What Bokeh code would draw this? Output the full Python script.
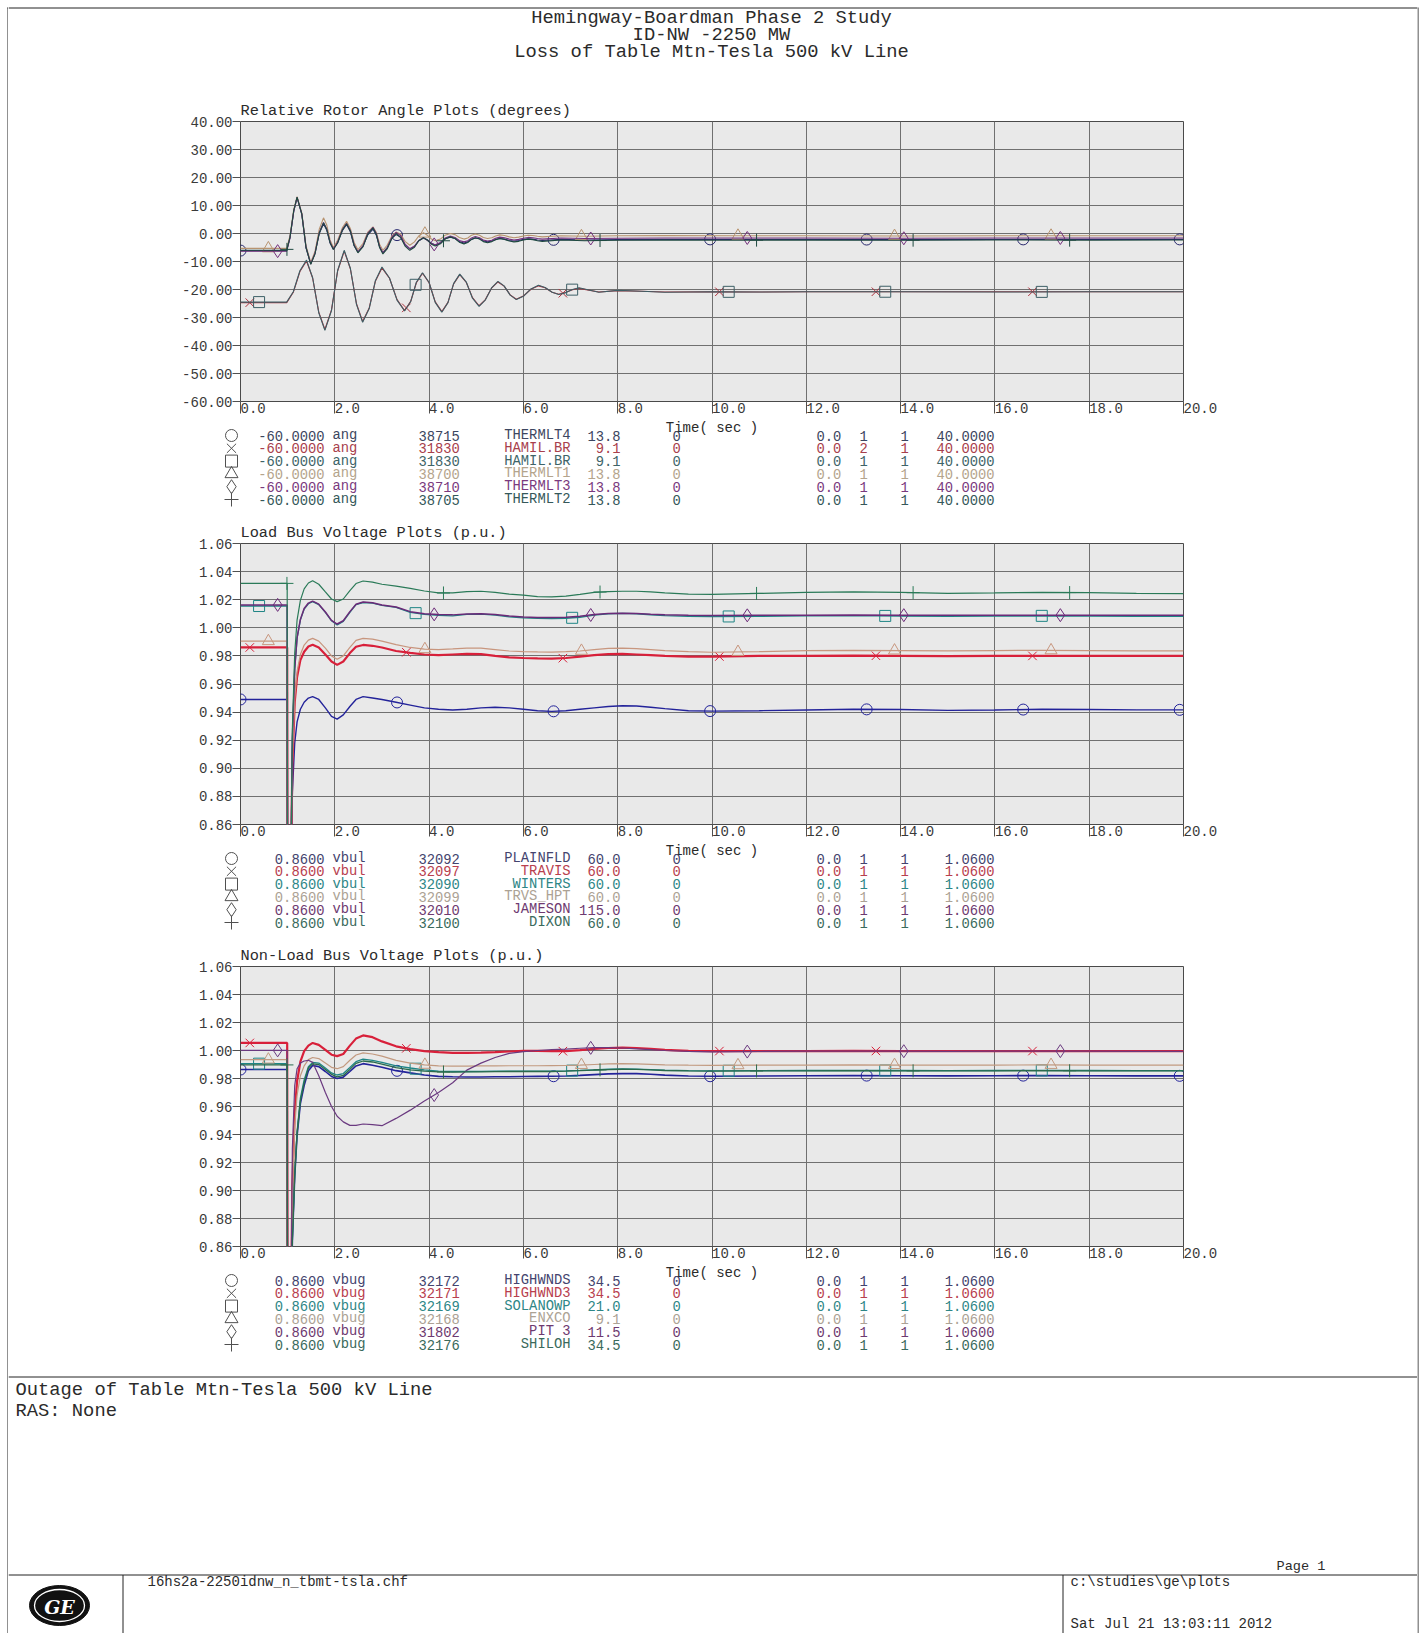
import numpy as np
from bokeh.plotting import figure
from bokeh.layouts import column, row
from bokeh.models import (Range1d, FixedTicker, PrintfTickFormatter, CustomJSTickFormatter,
                          Title, ColumnDataSource)
from bokeh.core.properties import value
from bokeh.embed import file_html
from bokeh.resources import INLINE

# ---------------------------------------------------------------- report text
REPORT_TITLE = ["Hemingway-Boardman Phase 2 Study",
                "ID-NW -2250 MW",
                "Loss of Table Mtn-Tesla 500 kV Line"]
NOTES = ["Outage of Table Mtn-Tesla 500 kV Line", "RAS: None"]
PAGE_LABEL = "Page 1"
CASE_FILE = "16hs2a-2250idnw_n_tbmt-tsla.chf"
PLOT_DIR = "c:\\studies\\ge\\plots"
RUN_DATE = "Sat Jul 21 13:03:11 2012"

X_TICKS = [0, 2, 4, 6, 8, 10, 12, 14, 16, 18, 20]

# ---------------------------------------------------------------- rotor angles (degrees)
ROTOR_BUS = [38715, 31830, 31830, 38700, 38710, 38705]
ROTOR_NAME = ["THERMLT4", "HAMIL.BR", "HAMIL.BR", "THERMLT1", "THERMLT3", "THERMLT2"]
ROTOR_KV = ["13.8", "9.1", "9.1", "13.8", "13.8", "13.8"]
ROTOR_ID = ["1", "2", "1", "1", "1", "1"]

T_ROTOR_FAST = [0.0, 0.98, 1.05, 1.13, 1.20, 1.30, 1.39, 1.49, 1.58, 1.67, 1.76, 1.83, 1.90, 1.97,
                2.06, 2.16, 2.25, 2.33, 2.41, 2.49, 2.60, 2.70, 2.81, 2.88, 2.95, 3.02, 3.11, 3.21,
                3.30, 3.40, 3.49, 3.59, 3.69, 3.78, 3.88, 3.96, 4.05, 4.13, 4.24, 4.34, 4.45, 4.55,
                4.64, 4.74, 4.82, 4.90, 4.98, 5.07, 5.15, 5.24, 5.33, 5.41, 5.50, 5.60, 5.70, 5.80,
                5.90, 6.00, 6.10, 6.20, 6.30, 6.40, 6.80, 7.30, 8.00, 9.00, 10.50, 12.00, 14.00,
                16.00, 18.00, 20.00]
THERMLT4_ANG = [-6.1, -6.1, -1.5, 8.0, 12.8, 6.8, -5.2, -10.8, -7.0, 0.0,
                3.5, 1.2, -3.4, -5.6, -3.2, 1.0, 3.2, 0.6, -4.4, -6.6,
                -4.4, -0.5, 1.6, -0.6, -4.8, -6.9, -5.0, -1.6, -0.4, -1.3,
                -4.0, -5.5, -4.6, -2.6, -1.6, -2.2, -3.5, -4.1, -3.4, -1.9,
                -1.3, -1.8, -2.9, -3.4, -3.0, -2.1, -1.6, -1.9, -2.6, -3.0,
                -2.7, -2.1, -1.8, -2.0, -2.5, -2.7, -2.5, -2.1, -1.9, -2.0,
                -2.3, -2.5, -2.1, -2.3, -2.2, -2.1, -2.1, -2.1, -2.2, -2.1,
                -2.1, -2.1]
THERMLT1_ANG = [-5.3, -5.3, -0.8, 8.6, 13.2, 7.4, -4.4, -10.3, -6.4, 1.5,
                5.6, 3.0, -2.3, -5.0, -2.4, 2.0, 4.4, 1.8, -3.2, -5.8,
                -3.5, 0.5, 2.4, 0.4, -3.8, -6.0, -4.2, -0.9, 0.5, -0.3,
                -2.8, -4.2, -3.0, -0.9, 0.3, -0.6, -2.0, -2.6, -2.0, -0.6,
                0.0, -0.4, -1.4, -2.0, -1.6, -0.6, -0.2, -0.6, -1.4, -1.8,
                -1.5, -0.9, -0.5, -0.7, -1.2, -1.5, -1.3, -0.9, -0.6, -0.7,
                -1.0, -1.2, -0.8, -1.0, -0.8, -0.7, -0.8, -0.8, -0.9, -0.8,
                -0.8, -0.8]
THERMLT3_ANG = [-6.3, -6.3, -1.6, 8.0, 12.9, 7.1, -4.9, -10.9, -7.1, 0.3,
                3.9, 1.6, -3.1, -5.5, -3.1, 1.4, 3.6, 1.1, -4.0, -6.6,
                -4.3, 0.1, 2.2, 0.0, -4.6, -6.9, -5.2, -1.3, 0.4, -0.8,
                -3.8, -5.4, -4.5, -2.5, -1.5, -2.4, -3.6, -4.0, -3.2, -1.6,
                -0.9, -1.4, -2.5, -3.0, -2.6, -1.6, -1.1, -1.5, -2.3, -2.7,
                -2.4, -1.7, -1.3, -1.5, -2.0, -2.3, -2.1, -1.7, -1.4, -1.5,
                -1.8, -2.0, -1.6, -1.8, -1.7, -1.6, -1.6, -1.6, -1.7, -1.6,
                -1.6, -1.6]
THERMLT2_ANG = [-6.0, -6.0, -1.3, 8.3, 13.0, 7.0, -5.0, -11.0, -7.3, 0.1,
                3.8, 1.4, -3.3, -5.7, -3.4, 1.2, 3.5, 0.9, -4.3, -6.9,
                -4.7, -0.2, 2.0, -0.3, -5.0, -7.3, -5.5, -1.8, 0.0, -1.5,
                -4.5, -6.0, -4.9, -2.6, -1.5, -2.3, -3.8, -4.5, -3.7, -2.0,
                -1.2, -1.8, -3.1, -3.7, -3.2, -2.1, -1.5, -2.0, -2.9, -3.3,
                -2.9, -2.2, -1.8, -2.1, -2.7, -3.0, -2.8, -2.3, -2.0, -2.2,
                -2.6, -2.8, -2.3, -2.6, -2.4, -2.3, -2.4, -2.3, -2.4, -2.3,
                -2.4, -2.3]

T_ROTOR_SLOW = [0.0, 0.98, 1.12, 1.26, 1.40, 1.53, 1.66, 1.79, 1.93, 2.06,
                2.20, 2.33, 2.46, 2.59, 2.73, 2.86, 3.00, 3.16, 3.32, 3.48,
                3.61, 3.73, 3.86, 4.00, 4.13, 4.27, 4.40, 4.52, 4.65, 4.79,
                4.92, 5.06, 5.19, 5.33, 5.46, 5.59, 5.72, 5.85, 6.01, 6.16,
                6.32, 6.46, 6.61, 6.75, 6.89, 7.04, 7.18, 7.60, 8.00, 8.50,
                9.00, 10.00, 11.00, 12.00, 14.00, 16.00, 18.00, 20.00]
HAMIL2_ANG = [-24.7, -24.7, -21.0, -13.6, -9.8, -15.9, -28.1, -34.3, -27.3, -13.4,
              -6.3, -12.6, -25.1, -31.4, -26.6, -17.1, -12.3, -16.0, -23.6, -27.5,
              -24.2, -17.6, -14.2, -17.6, -24.4, -27.9, -24.6, -18.0, -14.7, -17.5,
              -22.9, -25.8, -23.7, -19.4, -17.3, -18.8, -21.9, -23.5, -22.2, -19.9,
              -18.7, -19.4, -21.0, -21.7, -21.1, -20.1, -19.6, -20.9, -20.4, -20.6,
              -20.9, -20.8, -20.9, -20.8, -20.8, -20.8, -20.8, -20.8]
HAMIL1_ANG = [-24.5, -24.5, -20.8, -13.3, -9.5, -15.8, -28.3, -34.6, -27.5, -13.2,
              -6.0, -12.4, -25.3, -31.7, -26.8, -16.9, -12.0, -15.9, -23.8, -27.7,
              -24.3, -17.4, -14.0, -17.5, -24.6, -28.1, -24.7, -17.9, -14.5, -17.4,
              -23.1, -26.0, -23.8, -19.3, -17.1, -18.7, -22.0, -23.6, -22.3, -19.8,
              -18.5, -19.3, -21.0, -21.8, -21.2, -20.0, -19.4, -21.0, -20.3, -20.6,
              -21.0, -20.8, -20.9, -20.8, -20.8, -20.9, -20.8, -20.8]

# ---------------------------------------------------------------- bus voltages (p.u.)
T_VOLT = [0.0, 0.99, 1.00, 1.06, 1.10, 1.15, 1.20, 1.27, 1.35, 1.44,
          1.53, 1.66, 1.80, 1.93, 2.05, 2.18, 2.32, 2.45, 2.60, 2.80,
          3.00, 3.30, 3.60, 3.90, 4.20, 4.50, 4.80, 5.10, 5.40, 5.70,
          6.00, 6.30, 6.60, 6.90, 7.20, 7.50, 7.80, 8.10, 8.40, 8.70,
          9.00, 9.50, 10.0, 11.0, 12.0, 13.0, 14.0, 15.0, 16.0, 17.0,
          18.0, 19.0, 20.0]

LOAD_BUS = [32092, 32097, 32090, 32099, 32010, 32100]
LOAD_NAME = ["PLAINFLD", "TRAVIS", "WINTERS", "TRVS_HPT", "JAMESON", "DIXON"]
LOAD_KV = ["60.0", "60.0", "60.0", "60.0", "115.0", "60.0"]
LOAD_ID = ["1", "1", "1", "1", "1", "1"]

PLAINFLD_V = [0.949, 0.949, 0.75, 0.80, 0.883, 0.918, 0.933, 0.942, 0.947, 0.950,
              0.951, 0.949, 0.943, 0.937, 0.935, 0.938, 0.944, 0.949, 0.951, 0.950,
              0.949, 0.947, 0.945, 0.943, 0.942, 0.9415, 0.942, 0.943, 0.9435, 0.943,
              0.942, 0.941, 0.9405, 0.941, 0.942, 0.943, 0.944, 0.9445, 0.9443, 0.9435,
              0.9425, 0.941, 0.9407, 0.941, 0.9415, 0.942, 0.9418, 0.9412, 0.9415, 0.942,
              0.9418, 0.9416, 0.9416]
TRAVIS_V = [0.986, 0.986, 0.75, 0.80, 0.903, 0.947, 0.965, 0.977, 0.983, 0.9867,
            0.988, 0.986, 0.981, 0.976, 0.9736, 0.976, 0.982, 0.9865, 0.9878, 0.9872,
            0.986, 0.9835, 0.9822, 0.981, 0.9805, 0.981, 0.9815, 0.9813, 0.980, 0.979,
            0.9785, 0.9782, 0.978, 0.9785, 0.9795, 0.9805, 0.9812, 0.9814, 0.981, 0.9805,
            0.980, 0.9795, 0.9795, 0.980, 0.980, 0.9802, 0.980, 0.9798, 0.980, 0.980,
            0.980, 0.980, 0.980]
WINTERS_V = [1.0155, 1.0155, 0.75, 0.80, 0.920, 0.9705, 0.9924, 1.0055, 1.0133, 1.0171,
             1.0186, 1.0165, 1.011, 1.005, 1.002, 1.0045, 1.011, 1.0165, 1.018, 1.0175,
             1.016, 1.0145, 1.011, 1.0095, 1.0088, 1.0085, 1.0095, 1.0098, 1.009, 1.0078,
             1.007, 1.0067, 1.0066, 1.0068, 1.0075, 1.009, 1.010, 1.0103, 1.010, 1.0093,
             1.0087, 1.0082, 1.008, 1.0082, 1.0085, 1.0086, 1.0084, 1.0082, 1.0083, 1.0085,
             1.0084, 1.0082, 1.0082]
TRVS_HPT_V = [0.9905, 0.9905, 0.75, 0.80, 0.906, 0.950, 0.969, 0.981, 0.9877, 0.9912,
              0.9925, 0.9905, 0.9855, 0.980, 0.9776, 0.980, 0.986, 0.991, 0.9925, 0.992,
              0.9905, 0.988, 0.986, 0.9848, 0.9845, 0.985, 0.9856, 0.9855, 0.9845, 0.9835,
              0.983, 0.9828, 0.9827, 0.983, 0.9835, 0.9845, 0.9853, 0.9856, 0.9852, 0.9845,
              0.9838, 0.983, 0.9826, 0.983, 0.9838, 0.984, 0.9838, 0.9836, 0.9838, 0.984,
              0.9838, 0.9836, 0.9836]
JAMESON_V = [1.0163, 1.0163, 0.75, 0.80, 0.921, 0.971, 0.993, 1.006, 1.0138, 1.0176,
             1.019, 1.0168, 1.0112, 1.0053, 1.0027, 1.005, 1.0115, 1.0168, 1.0184, 1.0178,
             1.0163, 1.0148, 1.0115, 1.0100, 1.0094, 1.0092, 1.0099, 1.0100, 1.0094, 1.0084,
             1.0077, 1.0074, 1.0073, 1.0075, 1.0082, 1.0094, 1.0101, 1.0104, 1.0102, 1.0096,
             1.0092, 1.0089, 1.0088, 1.0089, 1.0090, 1.0091, 1.0090, 1.0089, 1.0089, 1.0090,
             1.0090, 1.0089, 1.0089]
DIXON_V = [1.0316, 1.0316, 0.75, 0.80, 0.928, 0.982, 1.0055, 1.0195, 1.0277, 1.0319,
           1.0335, 1.031, 1.0255, 1.0205, 1.0186, 1.0205, 1.0265, 1.0315, 1.0333, 1.0325,
           1.031, 1.0297, 1.028, 1.0262, 1.0248, 1.0248, 1.0258, 1.026, 1.0252, 1.024,
           1.0233, 1.0222, 1.022, 1.0225, 1.0238, 1.0252, 1.0258, 1.026, 1.026, 1.0255,
           1.0248, 1.024, 1.0238, 1.0245, 1.0252, 1.0255, 1.0252, 1.0245, 1.0248, 1.0252,
           1.025, 1.0245, 1.0243]

GEN_BUS = [32172, 32171, 32169, 32168, 31802, 32176]
GEN_NAME = ["HIGHWNDS", "HIGHWND3", "SOLANOWP", "ENXCO", "PIT 3", "SHILOH"]
GEN_KV = ["34.5", "34.5", "21.0", "9.1", "11.5", "34.5"]
GEN_ID = ["1", "1", "1", "1", "1", "1"]

HIGHWNDS_V = [0.9864, 0.9864, 0.75, 0.78, 0.864, 0.910, 0.939, 0.962, 0.975, 0.9855,
              0.9893, 0.9885, 0.985, 0.9815, 0.980, 0.981, 0.985, 0.989, 0.9906, 0.9895,
              0.988, 0.9856, 0.984, 0.9825, 0.9815, 0.9812, 0.9811, 0.9811, 0.9812, 0.9813,
              0.9814, 0.9815, 0.9816, 0.9818, 0.9822, 0.9828, 0.9833, 0.9835, 0.9835, 0.983,
              0.9824, 0.9818, 0.9816, 0.9818, 0.982, 0.9821, 0.982, 0.9819, 0.982, 0.9821,
              0.982, 0.9819, 0.9819]
HIGHWND3_V = [1.0054, 1.0054, 0.75, 0.78, 0.904, 0.956, 0.978, 0.992, 0.9995, 1.0035,
              1.0054, 1.004, 1.0005, 0.997, 0.996, 0.9975, 1.0035, 1.0085, 1.0108, 1.0095,
              1.0065, 1.003, 1.001, 0.9995, 0.9988, 0.9983, 0.9983, 0.9985, 0.9988, 0.9993,
              0.9998, 0.9998, 0.9996, 0.9995, 1.0003, 1.0012, 1.0018, 1.002, 1.0018, 1.0012,
              1.0005, 0.9998, 0.9996, 0.9995, 0.9996, 0.9997, 0.9996, 0.9995, 0.9996, 0.9996,
              0.9995, 0.9995, 0.9995]
SOLANOWP_V = [0.9906, 0.9906, 0.75, 0.78, 0.866, 0.912, 0.942, 0.966, 0.979, 0.9885,
              0.9915, 0.991, 0.9875, 0.984, 0.9825, 0.9835, 0.9878, 0.992, 0.9938, 0.993,
              0.9915, 0.989, 0.9875, 0.9862, 0.9852, 0.985, 0.985, 0.9851, 0.9852, 0.9853,
              0.9853, 0.9853, 0.9853, 0.9855, 0.9858, 0.9862, 0.9866, 0.9868, 0.9867, 0.9863,
              0.9859, 0.9856, 0.9855, 0.9856, 0.9857, 0.9858, 0.9857, 0.9856, 0.9857, 0.9858,
              0.9857, 0.9856, 0.9856]
ENXCO_V = [0.9935, 0.9935, 0.75, 0.78, 0.896, 0.946, 0.968, 0.982, 0.989, 0.9935,
           0.995, 0.9942, 0.991, 0.988, 0.987, 0.9885, 0.993, 0.9968, 0.9983, 0.9975,
           0.996, 0.993, 0.991, 0.9898, 0.989, 0.9888, 0.9888, 0.989, 0.989, 0.9891,
           0.9891, 0.9891, 0.9892, 0.9893, 0.9896, 0.990, 0.9904, 0.9906, 0.9905, 0.9901,
           0.9897, 0.9895, 0.9894, 0.9895, 0.9896, 0.9897, 0.9896, 0.9895, 0.9896, 0.9897,
           0.9896, 0.9895, 0.9895]
PIT3_V = [1.0001, 1.0001, 0.75, 0.78, 0.930, 0.975, 0.987, 0.991, 0.9925, 0.993,
          0.9915, 0.982, 0.970, 0.960, 0.953, 0.949, 0.9465, 0.9465, 0.9475, 0.947,
          0.9463, 0.9515, 0.9574, 0.964, 0.970, 0.977, 0.986, 0.991, 0.995, 0.998,
          0.9992, 1.0, 1.0006, 1.001, 1.0016, 1.002, 1.002, 1.0018, 1.0012, 1.0006,
          1.0, 0.9994, 0.999, 0.9993, 0.9995, 0.9996, 0.9995, 0.9994, 0.9995, 0.9996,
          0.9995, 0.9994, 0.9994]
SHILOH_V = [0.9897, 0.9897, 0.75, 0.78, 0.864, 0.911, 0.941, 0.964, 0.977, 0.9875,
            0.9905, 0.990, 0.9865, 0.983, 0.9812, 0.9822, 0.9865, 0.9908, 0.9925, 0.9918,
            0.9902, 0.9878, 0.9862, 0.9852, 0.9847, 0.9846, 0.9847, 0.9848, 0.9849, 0.985,
            0.985, 0.985, 0.985, 0.9852, 0.9856, 0.986, 0.9864, 0.9866, 0.9865, 0.9861,
            0.9857, 0.9854, 0.9853, 0.9854, 0.9855, 0.9856, 0.9855, 0.9854, 0.9855, 0.9856,
            0.9855, 0.9854, 0.9854]

# ---------------------------------------------------------------- styling
FONT = "Liberation Mono"
INK = "#2b2b2b"
GRID = "#707070"
FRAME_BG = "#e9e9e9"
MARKERS = ["circle", "x", "square", "triangle", "diamond", "cross"]
MARKER_SIZES = [11, 12, 11, 12, 13, 13]
KEY_SIZES = [12, 13, 12, 13, 14, 14]
MARK_PERIOD = 3.32     # seconds between symbols on a trace
MARK_STAGGER = 0.197   # offset between traces

ROTOR_COLORS = ["#28286e", "#b0303c", "#3d5f66", "#b89470", "#74307c", "#1f4a40"]
LOAD_COLORS = ["#23239a", "#d8203a", "#1f8585", "#c8967e", "#6b2a78", "#2a7a58"]
GEN_COLORS = ["#23239a", "#d8203a", "#1f8585", "#c29a80", "#6b3a80", "#2a6a4c"]
# softer tones for the printed channel tables
ROTOR_TABLE = ["#3c4660", "#a8404c", "#3e6468", "#b4a48c", "#7a3a7e", "#35585a"]
VOLT_TABLE = ["#44446e", "#b8404e", "#2e8686", "#aca294", "#6e3a70", "#3a6a5c"]

PAGE_W, PAGE_H = 1422, 1633
LEFT_W, RIGHT_W = 8, 5
MID_W = PAGE_W - LEFT_W - RIGHT_W
FRAME_LEFT = 232          # inside the middle column
FRAME_W = 943
HEADER_H = 92
FOOT_H = 273
AXIS_PAD = 17             # room under each plot for its tick labels

# channel table: first row and row pitch (px, from the top of the table strip)
LEG_ROW0, LEG_PITCH = 16, 12.8
TIME_LABEL_Y = 8


def sheet(width, height):
    f = figure(width=width, height=height, title=None,
               x_range=Range1d(0, width), y_range=Range1d(height, 0),
               output_backend="svg", toolbar_location=None, min_border=0,
               x_axis_type=None, y_axis_type=None, frame_align=False)
    f.outline_line_color = None
    f.background_fill_color = "white"
    f.border_fill_color = "white"
    return f


def txt(f, x, y, s, size, align="left", color=INK, font=FONT, style="normal"):
    f.text(x=[x], y=[y], text=[s], text_font=value(font), text_font_size=value(size),
           text_align=align, text_baseline="middle", text_color=color,
           text_font_style=style)


def make_panel(title, traces, colors, widths, y_lo, y_hi, y_step, top_pad, frame_h):
    height = top_pad + frame_h + AXIS_PAD
    p = figure(width=MID_W, height=height,
               x_range=Range1d(0, 20), y_range=Range1d(y_lo, y_hi),
               output_backend="svg", toolbar_location=None,
               min_border_left=FRAME_LEFT, min_border_right=MID_W - FRAME_LEFT - FRAME_W,
               min_border_top=top_pad, min_border_bottom=AXIS_PAD)
    p.title = Title(text=title, align="left", text_font=FONT, text_font_size="15.3px",
                    text_font_style="normal", text_color=INK, standoff=4)
    p.background_fill_color = FRAME_BG
    p.border_fill_color = "white"
    p.outline_line_color = "#4a4a4a"
    p.outline_line_width = 1

    y_ticks = [round(v, 4) for v in np.arange(y_lo, y_hi + y_step / 2, y_step)]
    p.xaxis.ticker = FixedTicker(ticks=X_TICKS)
    p.xgrid.ticker = FixedTicker(ticks=X_TICKS)
    p.yaxis.ticker = FixedTicker(ticks=y_ticks)
    p.ygrid.ticker = FixedTicker(ticks=y_ticks)
    # labels start at their tick, as on the printed sheet
    p.xaxis.formatter = CustomJSTickFormatter(
        code="const s = tick.toFixed(1); return '\\u00a0'.repeat(s.length) + s;")
    p.yaxis.formatter = PrintfTickFormatter(format="%.2f")
    for g in (p.xgrid, p.ygrid):
        g.grid_line_color = GRID
        g.grid_line_width = 1
    for ax in (p.xaxis, p.yaxis):
        ax.axis_line_color = None
        ax.major_tick_line_color = "#505050"
        ax.major_tick_in = 0
        ax.minor_tick_line_color = None
        ax.major_label_text_font = FONT
        ax.major_label_text_font_size = "14px"
        ax.major_label_text_color = "#3a3a3a"
    p.xaxis.major_tick_out = 12
    p.xaxis.major_label_standoff = -13
    p.yaxis.major_tick_out = 8
    p.yaxis.major_label_standoff = 0

    for i, (t, v) in enumerate(traces):
        p.line(t, v, line_color=colors[i], line_width=widths[i])
        tm = [MARK_STAGGER * i + MARK_PERIOD * k for k in range(7)]
        tm = [x for x in tm if x <= 20.0]
        p.scatter(tm, np.interp(tm, t, v), marker=MARKERS[i], size=MARKER_SIZES[i],
                  line_color=colors[i], fill_color=None, line_width=1)
    return p


def make_table(height, colors, y_lo, y_hi, quantity, buses, names, kvs, ids):
    f = sheet(MID_W, height)
    x0 = FRAME_LEFT                      # plot left edge inside the column
    txt(f, x0 + FRAME_W / 2, TIME_LABEL_Y, "Time( sec )", "14px", align="center")
    ys = [LEG_ROW0 + LEG_PITCH * i for i in range(6)]
    src = ColumnDataSource(dict(x=[x0 - 9] * 6, y=ys, m=MARKERS, s=KEY_SIZES))
    f.scatter(x="x", y="y", marker="m", size="s", source=src,
              line_color="#505050", fill_color=None, line_width=1)

    def col(dx, texts, align):
        f.text(x=[x0 + dx] * 6, y=ys, text=texts, text_color=colors,
               text_font=value(FONT), text_font_size=value("13.8px"),
               text_align=align, text_baseline="middle")

    col(84, [f"{y_lo:.4f}"] * 6, "right")
    col(92, [quantity] * 6, "left")
    col(178, [str(b) for b in buses], "left")
    col(330, names, "right")
    col(380, kvs, "right")
    col(432, ["0"] * 6, "left")
    col(576, ["0.0"] * 6, "left")
    col(619, ids, "left")
    col(660, ["1"] * 6, "left")
    col(754, [f"{y_hi:.4f}"] * 6, "right")
    return f


p1 = make_panel("Relative Rotor Angle Plots (degrees)",
                [(T_ROTOR_FAST, THERMLT4_ANG), (T_ROTOR_SLOW, HAMIL2_ANG),
                 (T_ROTOR_SLOW, HAMIL1_ANG), (T_ROTOR_FAST, THERMLT1_ANG),
                 (T_ROTOR_FAST, THERMLT3_ANG), (T_ROTOR_FAST, THERMLT2_ANG)],
                ROTOR_COLORS, [1.1] * 6, -60, 40, 10, 29, 281)
t1 = make_table(96, ROTOR_TABLE, -60, 40, "ang", ROTOR_BUS, ROTOR_NAME, ROTOR_KV, ROTOR_ID)

p2 = make_panel("Load Bus Voltage Plots (p.u.)",
                [(T_VOLT, PLAINFLD_V), (T_VOLT, TRAVIS_V), (T_VOLT, WINTERS_V),
                 (T_VOLT, TRVS_HPT_V), (T_VOLT, JAMESON_V), (T_VOLT, DIXON_V)],
                LOAD_COLORS, [1.4, 2.2, 1.3, 1.2, 1.5, 1.2], 0.86, 1.06, 0.02, 28, 282)
t2 = make_table(95, VOLT_TABLE, 0.86, 1.06, "vbul", LOAD_BUS, LOAD_NAME, LOAD_KV, LOAD_ID)

p3 = make_panel("Non-Load Bus Voltage Plots (p.u.)",
                [(T_VOLT, HIGHWNDS_V), (T_VOLT, HIGHWND3_V), (T_VOLT, SOLANOWP_V),
                 (T_VOLT, ENXCO_V), (T_VOLT, PIT3_V), (T_VOLT, SHILOH_V)],
                GEN_COLORS, [1.6, 2.2, 1.3, 1.2, 1.2, 1.3], 0.86, 1.06, 0.02, 29, 281)
t3 = make_table(96, VOLT_TABLE, 0.86, 1.06, "vbug", GEN_BUS, GEN_NAME, GEN_KV, GEN_ID)

# page border strips
left = sheet(LEFT_W, PAGE_H)
left.segment(x0=[7.5], y0=[7], x1=[7.5], y1=[PAGE_H], line_color="#222222", line_width=1)
left.segment(x0=[7], y0=[7.5], x1=[LEFT_W], y1=[7.5], line_color="#222222", line_width=1)
right = sheet(RIGHT_W, PAGE_H)
right.segment(x0=[0.5], y0=[7], x1=[0.5], y1=[PAGE_H], line_color="#222222", line_width=1)
right.segment(x0=[0], y0=[7.5], x1=[0.5], y1=[7.5], line_color="#222222", line_width=1)

# header
head = sheet(MID_W, HEADER_H)
head.segment(x0=[0], y0=[7.5], x1=[MID_W], y1=[7.5], line_color="#222222", line_width=1)
for k, line in enumerate(REPORT_TITLE):
    txt(head, 703, 17.5 + 17 * k, line, "18.8px", align="center")

# footer
foot = sheet(MID_W, FOOT_H)
foot.segment(x0=[0], y0=[16.5], x1=[MID_W], y1=[16.5], line_color="#222222", line_width=1)
txt(foot, 7, 29, NOTES[0], "18.8px")
txt(foot, 7, 50.5, NOTES[1], "18.8px")
txt(foot, 1268, 206, PAGE_LABEL, "13.6px")
foot.segment(x0=[0], y0=[214.5], x1=[MID_W], y1=[214.5], line_color="#222222", line_width=1)
foot.segment(x0=[114.5, 1054.5], y0=[214.5, 214.5], x1=[114.5, 1054.5], y1=[FOOT_H, FOOT_H],
             line_color="#222222", line_width=1)
txt(foot, 139, 221, CASE_FILE, "14px")
txt(foot, 1062, 221, PLOT_DIR, "14px")
txt(foot, 1062, 263, RUN_DATE, "14px")
foot.ellipse(x=[51], y=[245], width=[60], height=[40], fill_color="#111111",
             line_color="#111111")
foot.ellipse(x=[51], y=[245], width=[50], height=[32], fill_color=None,
             line_color="white", line_width=1.3)
txt(foot, 51, 246, "GE", "19px", align="center", color="white",
    font="DejaVu Serif", style="bold italic")

page = row(left, column(head, p1, t1, p2, t2, p3, t3, foot), right)
open("out.html", "w").write(file_html(page, INLINE, title="Phase 2 Study"))
